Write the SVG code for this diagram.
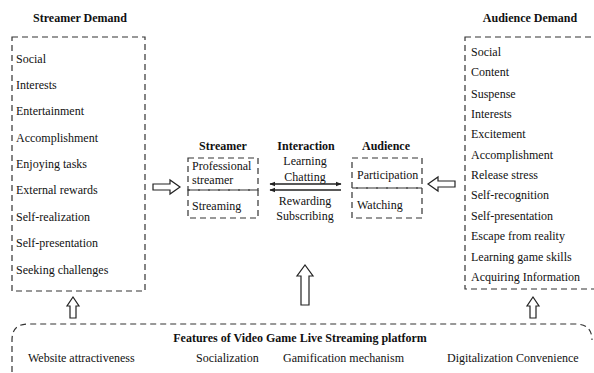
<svg xmlns="http://www.w3.org/2000/svg" width="594" height="373" viewBox="0 0 594 373">
<defs>
<style>
text{font-family:"Liberation Serif","Times New Roman",serif;font-size:12px;fill:#111}
.h{font-weight:bold}
.m{text-anchor:middle}
.box{fill:none;stroke:#333;stroke-width:1.2;stroke-dasharray:6,4}
.blk{fill:#fff;stroke:#222;stroke-width:1.2}
.ln{stroke:#222;stroke-width:1.5;fill:none}
</style>
<marker id="ah" viewBox="0 0 10 10" refX="9" refY="5" markerWidth="6" markerHeight="6" orient="auto-start-reverse" markerUnits="userSpaceOnUse">
<path d="M0,1 L10,5 L0,9 Z" fill="#222"/>
</marker>
</defs>
<rect width="594" height="373" fill="#fff"/>

<g id="streamer-demand">
<text class="h m" x="80" y="22">Streamer Demand</text>
<rect class="box" x="12" y="37" width="133" height="254"/>
<text x="16" y="63">Social</text>
<text x="16" y="89">Interests</text>
<text x="16" y="115">Entertainment</text>
<text x="16" y="142">Accomplishment</text>
<text x="16" y="168">Enjoying tasks</text>
<text x="16" y="194">External rewards</text>
<text x="16" y="221">Self-realization</text>
<text x="16" y="247">Self-presentation</text>
<text x="16" y="274">Seeking challenges</text>
</g>

<g id="audience-demand">
<text class="h m" x="530" y="22">Audience Demand</text>
<rect class="box" x="465" y="37" width="140" height="252"/>
<text x="471" y="56">Social</text>
<text x="471" y="76">Content</text>
<text x="471" y="98">Suspense</text>
<text x="471" y="118">Interests</text>
<text x="471" y="138">Excitement</text>
<text x="471" y="159">Accomplishment</text>
<text x="471" y="179">Release stress</text>
<text x="471" y="199">Self-recognition</text>
<text x="471" y="220">Self-presentation</text>
<text x="471" y="240">Escape from reality</text>
<text x="471" y="261">Learning game skills</text>
<text x="471" y="281">Acquiring Information</text>
</g>

<g id="streamer">
<text class="h m" x="223" y="150">Streamer</text>
<rect class="box" x="188" y="158" width="70" height="32"/>
<rect class="box" x="188" y="190" width="70" height="28"/>
<text x="192" y="170">Professional</text>
<text x="192" y="184">streamer</text>
<text x="192" y="210">Streaming</text>
</g>

<g id="interaction">
<text class="h m" x="306" y="150">Interaction</text>
<text class="m" x="305" y="165">Learning</text>
<text class="m" x="305" y="181">Chatting</text>
<text class="m" x="305" y="205">Rewarding</text>
<text class="m" x="305" y="220">Subscribing</text>
</g>

<g id="audience">
<text class="h m" x="386" y="150">Audience</text>
<rect class="box" x="352" y="158" width="70" height="30"/>
<rect class="box" x="352" y="188" width="70" height="30"/>
<text x="357" y="179">Participation</text>
<text x="357" y="209">Watching</text>
</g>

<g id="platform">
<path class="box" d="M12,372 L12,340 Q12,324 28,324 L575,324 Q592,324 592,340"/>
<text class="h m" x="300" y="342">Features of Video Game Live Streaming platform</text>
<text x="28" y="362">Website attractiveness</text>
<text x="196" y="362">Socialization</text>
<text x="283" y="362">Gamification mechanism</text>
<text x="447" y="362">Digitalization Convenience</text>
</g>

<g id="connectors">
<line class="ln" x1="270" y1="184" x2="341" y2="184" marker-end="url(#ah)" marker-start="url(#ah)"/>
<line class="ln" x1="270" y1="190" x2="341" y2="190" marker-start="url(#ah)"/>
<path class="blk" d="M153,184 L170,184 L170,180 L180,187 L170,194 L170,190 L153,190 Z"/>
<path class="blk" d="M455,181 L438,181 L438,177 L428,184 L438,191 L438,187 L455,187 Z"/>
<path class="blk" d="M301,305 L301,276 L297,276 L305,265 L313,276 L309,276 L309,305 Z"/>
<path class="blk" d="M70,318 L70,306 L67,306 L73,297 L79,306 L76,306 L76,318 Z"/>
<path class="blk" d="M530,318 L530,306 L527,306 L533,297 L539,306 L536,306 L536,318 Z"/>
</g>
</svg>
